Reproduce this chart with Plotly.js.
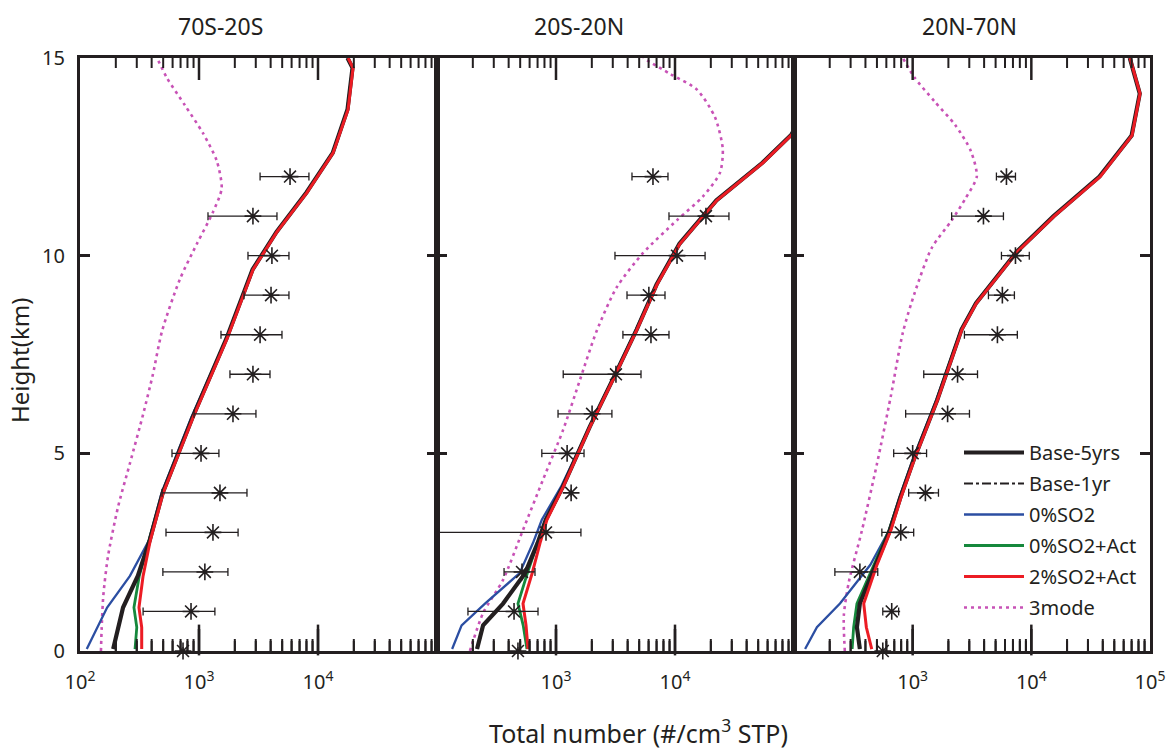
<!DOCTYPE html>
<html><head><meta charset="utf-8">
<script src="https://cdn.plot.ly/plotly-3.0.1.min.js"></script>
<style>body{margin:0;background:#fff}#chart{width:1172px;height:748px}</style>
</head><body><div id="chart"></div>
<script>
// ---------- labels ----------
const regions = ['70S-20S', '20S-20N', '20N-70N'];
const seriesNames = ['Base-5yrs', 'Base-1yr', '0%SO2', '0%SO2+Act', '2%SO2+Act', '3mode'];
const xTickVals = [100, 1000, 10000, 100000];
const xTickText1 = ['10<sup>2</sup>', '10<sup>3</sup>', '10<sup>4</sup>', ''];
const xTickText2 = ['', '10<sup>3</sup>', '10<sup>4</sup>', ''];
const xTickText3 = ['', '10<sup>3</sup>', '10<sup>4</sup>', '10<sup>5</sup>'];
const yTickVals = [0, 5, 10, 15];

// ---------- Panel 1 (70S-20S) model profiles ----------
const h1 = [0.05, 0.6, 1.1, 1.9, 2.8, 4.0, 5.9, 7.9, 9.65, 10.6, 11.6, 12.6, 13.7, 14.75, 15.0];
const base5_1 = [190, 209, 230, 306, 385, 495, 880, 1700, 2820, 4480, 8000, 13300, 17700, 19500, 17700];
const base1_1 = [190, 209, 230, 306, 385, 495, 880, 1700, 2820, 4480, 8000, 13300, 17700, 19500, 17700];
const so2zero_1 = [114, 139, 169, 263, 380, 485, 860, 1690, 2800, 4450, 7950, 13200, 17600, 19400, 17600];
const so2zeroAct_1 = [290, 300, 284, 315, 380, 495, 880, 1700, 2820, 4480, 8000, 13300, 17700, 19500, 17700];
const so2twoAct_1 = [330, 330, 313, 339, 390, 500, 890, 1720, 2850, 4520, 8100, 13400, 17900, 19700, 17900];
const h3m_1 = [0, 0.55, 1.4, 2.4, 3.65, 4.75, 6.0, 7.0, 8.1, 9.4, 10.3, 11.1, 11.7, 12.4, 13.1, 13.8, 14.5, 15];
const mode3_1 = [150, 152, 157, 172, 209, 263, 340, 410, 490, 690, 960, 1310, 1550, 1410, 1080, 763, 537, 444];

// ---------- Panel 2 (20S-20N) model profiles ----------
const h2 = [0.05, 0.65, 1.2, 1.97, 2.73, 3.32, 4.15, 5.67, 6.86, 8.13, 9.27, 10.3, 11.4, 12.35, 13.06, 14.1, 15.0];
const base5_2 = [217, 244, 359, 550, 700, 820, 1140, 1920, 2990, 4760, 7000, 10900, 22300, 54300, 95000, 148000, 128000];
const base1_2 = [217, 244, 359, 550, 700, 820, 1140, 1920, 2990, 4760, 7000, 10900, 22300, 54300, 95000, 148000, 128000];
const so2zero_2 = [134, 161, 253, 495, 640, 760, 1100, 1900, 2960, 4700, 6950, 10800, 22000, 54000, 95000, 148000, 128000];
const so2zeroAct_2 = [570, 530, 479, 575, 700, 830, 1140, 1910, 2980, 4750, 7000, 10900, 22300, 54000, 95000, 148000, 128000];
const so2twoAct_2 = [582, 560, 528, 631, 734, 839, 1150, 1930, 3010, 4790, 7060, 11000, 22500, 54800, 96000, 150000, 130000];
const h3m_2 = [0, 0.96, 1.8, 3.06, 4.33, 5.6, 6.86, 8.1, 9.2, 10.07, 10.9, 11.5, 12.1, 12.7, 13.5, 14.2, 14.6, 15];
const mode3_2 = [189, 244, 359, 528, 777, 1150, 1590, 2200, 3240, 5400, 10400, 17200, 23900, 25200, 21700, 15300, 9080, 5400];

// ---------- Panel 3 (20N-70N) model profiles ----------
const h3 = [0.05, 0.6, 1.2, 2.18, 3.04, 3.87, 4.8, 6.35, 8.13, 8.8, 10.1, 11.0, 12.0, 13.04, 14.1, 15.0];
const base5_3 = [359, 339, 359, 490, 640, 785, 1010, 1610, 2580, 3420, 7550, 15400, 37500, 70000, 82000, 67500];
const base1_3 = [359, 339, 359, 490, 640, 785, 1010, 1610, 2580, 3420, 7550, 15400, 37500, 70000, 82000, 67500];
const so2zero_3 = [124, 156, 244, 440, 630, 770, 990, 1580, 2560, 3400, 7500, 15400, 37500, 70000, 82000, 67500];
const so2zeroAct_3 = [309, 318, 339, 470, 630, 780, 1005, 1600, 2570, 3400, 7500, 15400, 37500, 70000, 82000, 67500];
const so2twoAct_3 = [452, 407, 387, 500, 653, 794, 1020, 1620, 2600, 3450, 7620, 15600, 38000, 70600, 82400, 67900];
const h3m_3 = [0, 0.9, 1.75, 3.04, 4.73, 6.43, 8.05, 9.06, 10.2, 10.9, 11.45, 12.0, 12.65, 13.3, 13.9, 14.5, 15];
const mode3_3 = [268, 263, 290, 373, 500, 653, 826, 1040, 1450, 2140, 2790, 3470, 3090, 2290, 1530, 1040, 826];

// ---------- Observations (value, lower, upper) ----------
const obsH = [0, 1, 2, 3, 4, 5, 6, 7, 8, 9, 10, 11, 12];
const obsVal1 = [734, 857, 1120, 1310, 1500, 1040, 1930, 2840, 3260, 4030, 4100, 2840, 5820];
const obsLo1 = [null, 339, 497, 528, 489, 593, 908, 1820, 1530, 2390, 2580, 1190, 3260];
const obsHi1 = [null, 1360, 1750, 2130, 2530, 1470, 3010, 3950, 4980, 5700, 5700, 4520, 8390];
const obsVal2 = [479, 444, 518, 824, 1340, 1240, 2010, 3190, 6280, 6030, 10400, 18200, 6530];
const obsLo2 = [null, 182, 366, 102, null, 760, 1040, 1150, 3650, 3950, 3130, 8900, 4350];
const obsHi2 = [null, 706, 666, 1620, null, 1720, 2950, 5180, 8900, 8240, 17900, 28400, 8730];
const obsVal3 = [560, 666, 359, 794, 1280, 1000, 1970, 2390, 5180, 5700, 7350, 3950, 6170];
const obsLo3 = [null, 560, 221, 550, 925, 692, 873, 1240, 2730, 4350, 5600, 2130, 5080];
const obsHi3 = [null, 762, 508, 1020, 1650, 1310, 3010, 3520, 7620, 7200, 9610, 5820, 7350];

// ---------- styles ----------
const AX = '#231f20';
const FONT = 'Noto Sans, Open Sans, sans-serif';
const styles = {
  'Base-5yrs': {color: '#231f20', width: 4.2, dash: 'solid', rank: 1},
  'Base-1yr': {color: '#231f20', width: 2, dash: 'dashdot', rank: 2},
  '0%SO2': {color: '#2b4ea2', width: 2.3, dash: 'solid', rank: 3},
  '0%SO2+Act': {color: '#16883c', width: 2.8, dash: 'solid', rank: 4},
  '2%SO2+Act': {color: '#ec1c24', width: 3, dash: 'solid', rank: 5},
  '3mode': {color: '#c852b6', width: 2.6, dash: '3px,4px', rank: 6}
};

const L = 80, R = 22, T = 58, B = 97, W = 1172, H = 748;
const PW = W - L - R, PH = H - T - B;
const bounds = [80, 437, 794, 1150].map(px => (px - L) / PW);
const X_LOG_RANGE = [2, 5];
const Y_RANGE = [0, 15];

const panels = [
  {h: h1, b5: base5_1, b1: base1_1, z: so2zero_1, za: so2zeroAct_1, ta: so2twoAct_1, h3m: h3m_1, m3: mode3_1, ov: obsVal1, ol: obsLo1, oh: obsHi1},
  {h: h2, b5: base5_2, b1: base1_2, z: so2zero_2, za: so2zeroAct_2, ta: so2twoAct_2, h3m: h3m_2, m3: mode3_2, ov: obsVal2, ol: obsLo2, oh: obsHi2},
  {h: h3, b5: base5_3, b1: base1_3, z: so2zero_3, za: so2zeroAct_3, ta: so2twoAct_3, h3m: h3m_3, m3: mode3_3, ov: obsVal3, ol: obsLo3, oh: obsHi3}
];

// tick positions along each log axis: decades (long) and 2..9 (short)
function tickSet(major) {
  const v = [];
  for (let e = 2; e < 5; e++) for (let m = 1; m < 10; m++) {
    if ((m === 1) !== major || (e === 2 && m === 1)) continue;
    v.push(m * Math.pow(10, e));
  }
  return v;
}

const traces = [];
panels.forEach((p, i) => {
  const xa = i === 0 ? 'x' : 'x' + (i + 1);
  const ya = i === 0 ? 'y' : 'y' + (i + 1);
  function line(name, xs, ys, smooth) {
    const s = styles[name];
    traces.push({
      type: 'scatter', mode: 'lines', name: name, x: xs, y: ys, xaxis: xa, yaxis: ya,
      line: {color: s.color, width: s.width, dash: s.dash, shape: smooth ? 'spline' : 'linear', smoothing: 0.7},
      legendgroup: name, legendrank: s.rank, showlegend: i === 0, hoverinfo: 'skip'
    });
  }
  line('3mode', p.m3, p.h3m, true);
  line('0%SO2', p.z, p.h);
  line('0%SO2+Act', p.za, p.h);
  line('Base-1yr', p.b1, p.h);
  line('Base-5yrs', p.b5, p.h);
  line('2%SO2+Act', p.ta, p.h);
  traces.push({
    type: 'scatter', mode: 'markers', name: 'obs', x: p.ov, y: obsH, xaxis: xa, yaxis: ya,
    marker: {symbol: 'asterisk-open', size: 14, color: '#231f20', line: {color: '#231f20', width: 1.6}},
    error_x: {type: 'data', symmetric: false,
      array: p.ov.map((v, k) => p.oh[k] == null ? null : p.oh[k] - v),
      arrayminus: p.ov.map((v, k) => p.ol[k] == null ? null : v - p.ol[k]),
      color: '#231f20', thickness: 1.3, width: 4},
    cliponaxis: false, showlegend: false, hoverinfo: 'skip'
  });
  // bottom inside tick marks drawn as vertical-line markers sitting on the axis
  [[true, 22, 2.5], [false, 10, 2]].forEach(([major, lenPx, w]) => {
    const vals = tickSet(major);
    const yMid = Y_RANGE[0] + (lenPx / 2) * (Y_RANGE[1] - Y_RANGE[0]) / PH;
    traces.push({type: 'scatter', mode: 'markers', x: vals, y: vals.map(() => yMid), xaxis: xa, yaxis: ya,
      marker: {symbol: 'line-ns-open', size: lenPx, color: AX, line: {color: AX, width: w}},
      cliponaxis: false, showlegend: false, hoverinfo: 'skip'});
  });
});

// tick marks along top and bottom as shapes, positions derived from each axis' domain and log range
const shapes = [];
[0, 1, 2].forEach(k => {
  const d0 = bounds[k], d1 = bounds[k + 1];
  [true, false].forEach(major => {
    tickSet(major).forEach(v => {
      const f = (Math.log10(v) - X_LOG_RANGE[0]) / (X_LOG_RANGE[1] - X_LOG_RANGE[0]);
      const px = d0 + f * (d1 - d0);
      const len = (major ? 22 : 10) / PH;
      const w = major ? 2.5 : 2;
      shapes.push({type: 'line', xref: 'paper', yref: 'paper', x0: px, x1: px, y0: 1, y1: 1 - len, line: {color: AX, width: w}, layer: 'above'});
      const hw = (w / 2) / PW;
      shapes.push({type: 'rect', xref: 'paper', yref: 'paper', x0: px - hw, x1: px + hw, y0: 0, y1: len,
        fillcolor: AX, line: {width: 0}, layer: 'above'});
    });
  });
});

function xaxis(k, ticktext, anchor) {
  return {
    type: 'log', range: X_LOG_RANGE, domain: [bounds[k], bounds[k + 1]], anchor: anchor,
    showline: true, linecolor: AX, linewidth: 3, mirror: true,
    ticks: '', tickmode: 'array', tickvals: xTickVals, ticktext: ticktext,
    showgrid: false, zeroline: false, fixedrange: true,
    tickfont: {family: FONT, size: 20, color: AX}, ticklabelstandoff: 11
  };
}
function yaxis(anchor, labels) {
  return {
    range: Y_RANGE, anchor: anchor, domain: [0, 1],
    showline: true, linecolor: AX, linewidth: 3, mirror: 'ticks',
    ticks: 'inside', ticklen: 10, tickwidth: 3, tickcolor: AX,
    tickmode: 'array', tickvals: yTickVals, showticklabels: labels,
    showgrid: false, zeroline: false, fixedrange: true,
    tickfont: {family: FONT, size: 20, color: AX}, ticklabelstandoff: 8
  };
}

const titleX = [220, 579, 969];
const annotations = regions.map((r, i) => ({
  text: r, xref: 'paper', yref: 'paper', x: (titleX[i] - L) / PW, y: 1 + (T - 26) / PH,
  xanchor: 'center', yanchor: 'middle', showarrow: false, font: {family: FONT, size: 23, color: AX}
}));
annotations.push({
  text: 'Total number (#/cm<sup>3</sup> STP)', xref: 'paper', yref: 'paper',
  x: (638 - L) / PW, y: -(731 - (H - B)) / PH, xanchor: 'center', yanchor: 'middle',
  showarrow: false, font: {family: FONT, size: 25, color: AX}
});
annotations.push({
  text: 'Height(km)', xref: 'paper', yref: 'paper', textangle: -90,
  x: (20 - L) / PW, y: ((H - B) - 361) / PH, xanchor: 'center', yanchor: 'middle',
  showarrow: false, font: {family: FONT, size: 24, color: AX}
});

const layout = {
  width: W, height: H, margin: {l: L, r: R, t: T, b: B},
  paper_bgcolor: '#fff', plot_bgcolor: '#fff',
  font: {family: FONT, color: AX},
  xaxis: xaxis(0, xTickText1, 'y'),
  xaxis2: xaxis(1, xTickText2, 'y2'),
  xaxis3: xaxis(2, xTickText3, 'y3'),
  yaxis: yaxis('x', true),
  yaxis2: yaxis('x2', false),
  yaxis3: yaxis('x3', false),
  showlegend: true,
  legend: {
    x: (959 - L) / PW, y: 1 - (433 - T) / PH, xanchor: 'left', yanchor: 'top',
    bgcolor: 'rgba(0,0,0,0)', borderwidth: 0, font: {family: FONT, size: 20, color: AX},
    traceorder: 'grouped', tracegroupgap: 2, itemwidth: 60
  },
  shapes: shapes,
  annotations: annotations
};

Plotly.newPlot('chart', traces, layout, {displayModeBar: false, staticPlot: true});
</script>
</body></html>
